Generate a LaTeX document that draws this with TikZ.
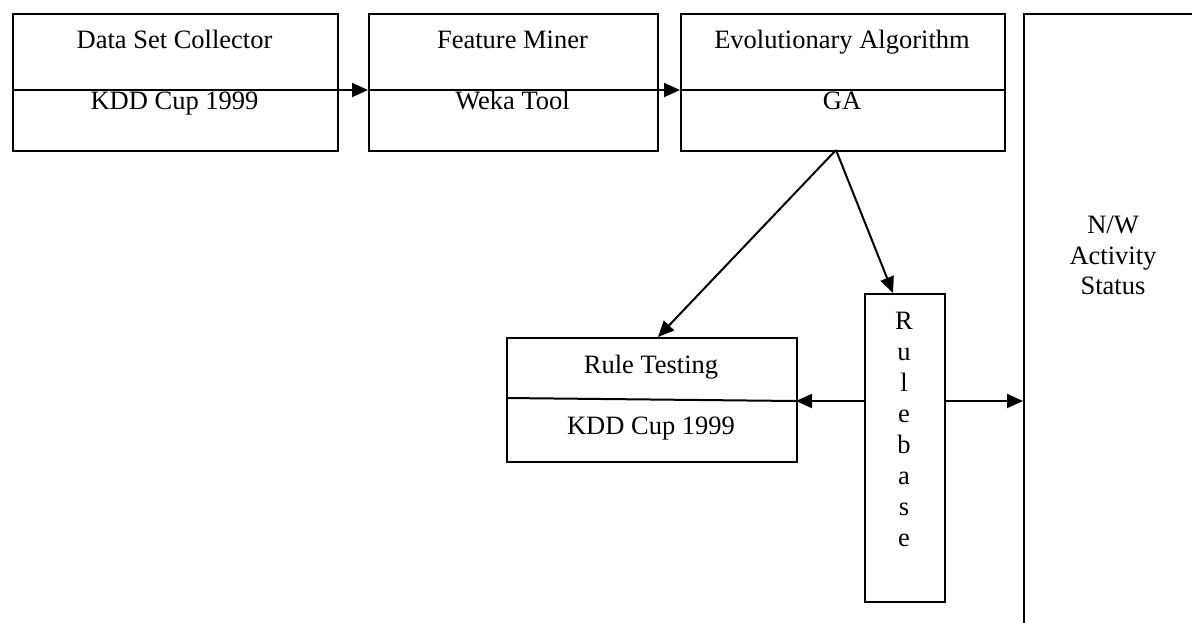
\documentclass[tikz,border=0pt]{standalone}
\usepackage{fontspec}
\setmainfont{Liberation Serif}
\usetikzlibrary{arrows.meta}
\tikzset{
  box/.style={draw, line width=1.8pt, rectangle, inner sep=0pt, anchor=north west},
  lbl/.style={anchor=base, inner sep=0pt, font=\fontsize{26.5}{31}\selectfont},
  conn/.style={line width=2pt},
  arr/.style={line width=2pt, -{Triangle[length=16pt,width=14pt]}},
}
\begin{document}
\begin{tikzpicture}[x=1pt,y=-1pt]
\useasboundingbox[fill=white] (0,0) rectangle (1192,622);
% top boxes
\node[box, minimum width=325pt, minimum height=137pt] (dsc) at (12,13) {};
\node[box, minimum width=289pt, minimum height=137pt] (fm) at (368,13) {};
\node[box, minimum width=324pt, minimum height=137pt] (ea) at (680,13) {};
\node[box, minimum width=300pt, minimum height=700pt] (nw) at (1023,13) {};
\node[box, minimum width=290pt, minimum height=124pt] (rt) at (506,337) {};
\node[box, minimum width=80pt, minimum height=308pt] (rb) at (864,293) {};
% texts
\node[lbl] (t1) at (174.5,48) {Data Set Collector};
\node[lbl] (t2) at (174.5,109) {KDD Cup 1999};
\node[lbl] (t3) at (512.5,48) {Feature Miner};
\node[lbl] (t4) at (512.5,109) {Weka Tool};
\node[lbl] (t5) at (842,48) {Evolutionary Algorithm};
\node[lbl] (t6) at (842,109) {GA};
\node[lbl] (t7) at (651,373) {Rule Testing};
\node[lbl] (t8) at (651,434) {KDD Cup 1999};
\node[lbl] (n1) at (1113,233) {N/W};
\node[lbl] (n2) at (1113,264) {Activity};
\node[lbl] (n3) at (1113,294) {Status};
\foreach \l [count=\i] in {R,u,l,e,b,a,s,e}
  \node[lbl] (rb\i) at (904,298+31*\i) {\l};
% coordinates
\coordinate (d1) at (12,90);
\coordinate (d2) at (657,90);
\coordinate (d2s) at (643,90);
\coordinate (d3a) at (680,90);
\coordinate (d3b) at (1004,90);
\coordinate (ga) at (836,150);
\coordinate (rtn) at (658,337);
\coordinate (rbn) at (893,293);
\coordinate (rtl) at (506,398);
\coordinate (rtr) at (796,401);
\coordinate (rbw) at (864,401);
\coordinate (rbe) at (944,401);
\coordinate (nww) at (1023,401);
% connectors
\draw[arr] (d1) -- (fm.west |- d1);
\draw[conn] (fm.west |- d1) -- (d2);
\draw[arr] (d2s) -- (d3a);
\draw[conn] (d3a) -- (d3b);
\draw[arr] (ga) -- (rtn);
\draw[arr] (ga) -- (rbn);
\draw[conn] (rtl) -- (rtr);
\draw[arr] (rbw) -- (rtr);
\draw[arr] (rbe) -- (nww);
\end{tikzpicture}
\end{document}
